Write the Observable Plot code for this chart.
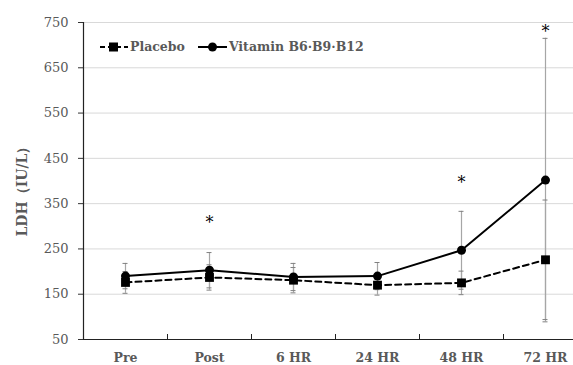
<!DOCTYPE html>
<html><head><meta charset="utf-8">
<script src="https://cdn.jsdelivr.net/npm/d3@7"></script>
<script src="https://cdn.jsdelivr.net/npm/@observablehq/plot@0.6"></script>
<style>
body{margin:0;background:#fff;}
#wrap{position:relative;width:573px;height:365px;overflow:hidden;}
#wrap svg.plot{overflow:hidden;}
#legend{position:absolute;left:99px;top:39px;font-family:"DejaVu Serif",serif;font-weight:bold;font-size:12.5px;color:#595959;display:flex;align-items:center;white-space:nowrap;}
#legend svg{vertical-align:middle;}
</style></head><body>
<div id="wrap"></div>
<script>
const categories = ["Pre","Post","6 HR","24 HR","48 HR","72 HR"];
const placebo = [176,187,181,170,175,226];
const placeboSD = [24,28,28,22,26,132];
const vitamin = [190,203,188,190,247,402];
const vitaminSD = [28,39,30,30,86,313];
const starIdx = [1,4,5];
const starY = [316,405,739];
const yTicks = [50,150,250,350,450,550,650,750];

const rows = (vals, sds, s) => vals.map((v,i)=>({i, v, lo:v-sds[i], hi:v+sds[i], s}));
const P = rows(placebo, placeboSD, "Placebo");
const V = rows(vitamin, vitaminSD, "Vitamin");
const bars = [...V, ...P];
const bounds = categories.slice(1).map((_,k)=>k+0.5);
const stars = starIdx.map((i,k)=>({i, y:starY[k]}));

const font = '"DejaVu Serif", serif';
const chart = Plot.plot({
  width: 573, height: 365,
  marginLeft: 83, marginTop: 22, marginBottom: 26, marginRight: 0,
  style: {fontFamily: font, background: "#fff"},
  x: {type: "linear", domain: [-0.5, 5.5], range: [83, 587]},
  y: {domain: [50, 750], range: [339, 22]},
  marks: [
    Plot.gridY(yTicks.slice(1), {stroke: "#d9d9d9", strokeOpacity: 1}),
    Plot.axisY(yTicks, {tickSize: 5, tickPadding: 10, fontSize: 13, fill: "#595959", stroke: "#333", label: null}),
    Plot.axisX(d3.range(categories.length), {tickSize: 0, tickPadding: 14, fontSize: 12.5, fontWeight: "bold", fill: "#595959", tickFormat: i => categories[i], label: null}),
    Plot.text(["LDH（IU/L）"], {frameAnchor: "left", textAnchor: "middle", dx: -61, dy: 7, rotate: -90, fontSize: 14, fontWeight: "bold", fill: "#595959", text: d => d}),
    Plot.ruleX([-0.5], {stroke: "#222", strokeWidth: 1.2}),
    Plot.ruleY([50], {stroke: "#222", strokeWidth: 1.2}),
    Plot.ruleX(bounds, {x: d => d, y1: 50, y2: 50, insetBottom: 5, stroke: "#222"}),
    Plot.ruleX(bars, {x: "i", y1: "lo", y2: "hi", stroke: "#a6a6a6", strokeWidth: 1.2}),
    Plot.ruleY(bars, {y: "lo", x1: "i", x2: "i", insetLeft: -2.5, insetRight: -2.5, stroke: "#808080"}),
    Plot.ruleY(bars, {y: "hi", x1: "i", x2: "i", insetLeft: -2.5, insetRight: -2.5, stroke: "#808080"}),
    Plot.line(V, {x: "i", y: "v", stroke: "#000", strokeWidth: 2}),
    Plot.dot(V, {x: "i", y: "v", fill: "#000", r: 4.5, symbol: "circle"}),
    Plot.line(P, {x: "i", y: "v", stroke: "#000", strokeWidth: 2, strokeDasharray: "6,4"}),
    Plot.dot(P, {x: "i", y: "v", fill: "#000", r: 5, symbol: "square"}),
    Plot.text(stars, {x: "i", y: "y", text: () => "*", fontSize: 16, fill: "#000", dy: 4})
  ]
});
chart.classList.add("plot");
document.getElementById("wrap").appendChild(chart);

const leg = document.createElement("div");
leg.id = "legend";
leg.innerHTML = `<svg width="30" height="12"><line x1="1" y1="6" x2="29" y2="6" stroke="#000" stroke-width="2" stroke-dasharray="5,3"/><rect x="10" y="1.5" width="9" height="9" fill="#000"/></svg><span style="margin-left:1px;margin-right:13px">Placebo</span><svg width="30" height="12"><line x1="0" y1="6" x2="29" y2="6" stroke="#000" stroke-width="2"/><circle cx="14.5" cy="6" r="4.5" fill="#000"/></svg><span style="margin-left:1px">Vitamin B6·B9·B12</span>`;
document.getElementById("wrap").appendChild(leg);
</script>
</body></html>
